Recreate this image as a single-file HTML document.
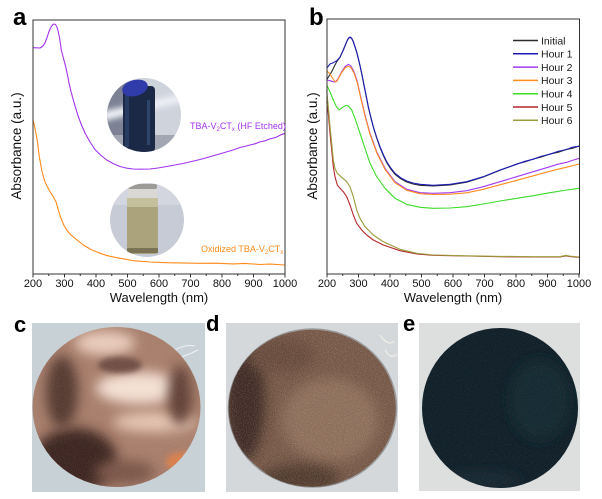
<!DOCTYPE html>
<html><head><meta charset="utf-8"><style>
html,body{margin:0;padding:0;background:#fff;width:602px;height:499px;overflow:hidden}
svg{display:block}
text{font-family:"Liberation Sans",Arial,sans-serif}
</style></head><body>
<svg width="602" height="499" viewBox="0 0 602 499" xmlns="http://www.w3.org/2000/svg">
<defs>
<filter id="bl" x="-60%" y="-60%" width="220%" height="220%"><feGaussianBlur stdDeviation="6"/></filter>
<filter id="bl2" x="-60%" y="-60%" width="220%" height="220%"><feGaussianBlur stdDeviation="3"/></filter>
<filter id="nz" x="0" y="0" width="100%" height="100%"><feTurbulence type="fractalNoise" baseFrequency="0.9" numOctaves="2" seed="4"/><feColorMatrix type="matrix" values="0 0 0 0 0.85  0 0 0 0 0.7  0 0 0 0 0.58  1.6 0 0 0 -0.65"/></filter>
<filter id="nzd" x="0" y="0" width="100%" height="100%"><feTurbulence type="fractalNoise" baseFrequency="0.9" numOctaves="2" seed="9"/><feColorMatrix type="matrix" values="0 0 0 0 0.15  0 0 0 0 0.1  0 0 0 0 0.08  1.6 0 0 0 -0.65"/></filter>
<filter id="nz2" x="0" y="0" width="100%" height="100%"><feTurbulence type="fractalNoise" baseFrequency="0.9" numOctaves="2" seed="7"/><feColorMatrix type="matrix" values="0 0 0 0 0.2  0 0 0 0 0.4  0 0 0 0 0.45  1.6 0 0 0 -0.7"/></filter>
<clipPath id="cc"><ellipse cx="116.5" cy="407" rx="84" ry="80"/></clipPath>
<clipPath id="cd"><ellipse cx="312.5" cy="408" rx="84" ry="79"/></clipPath>
<clipPath id="ce"><ellipse cx="500" cy="408" rx="78" ry="80"/></clipPath>
<clipPath id="i1"><circle cx="144" cy="115" r="37"/></clipPath>
<clipPath id="i2"><circle cx="147" cy="220" r="37"/></clipPath>
</defs>

<!-- Panel labels -->
<text x="13" y="25" font-size="24" font-weight="bold" fill="#000">a</text>
<text x="309" y="25" font-size="24" font-weight="bold" fill="#000">b</text>
<text x="14" y="332" font-size="22" font-weight="bold" fill="#000">c</text>
<text x="206" y="331" font-size="22" font-weight="bold" fill="#000">d</text>
<text x="403" y="331" font-size="22" font-weight="bold" fill="#000">e</text>

<!-- ===== Panel a ===== -->
<g clip-path="url(#i1)">
  <rect x="100" y="75" width="90" height="80" fill="#cfd3dc"/>
  <rect x="100" y="75" width="30" height="80" fill="#7c8294" filter="url(#bl2)"/>
  <path d="M100,112 L190,92 L190,100 L100,122 Z" fill="#eef0f5" filter="url(#bl2)"/>
  <rect x="100" y="135" width="90" height="25" fill="#a3a7b3"/>
  <rect x="123" y="86" width="32" height="66" rx="4" fill="#1b2846"/>
  <rect x="125" y="95" width="4" height="52" fill="#2c4068" opacity="0.8"/>
  <rect x="147" y="100" width="3" height="45" fill="#34507a" opacity="0.7"/>
  <ellipse cx="135" cy="88" rx="13" ry="8" fill="#2f3caa" transform="rotate(-15 135 88)"/>
</g>
<g clip-path="url(#i2)">
  <rect x="105" y="180" width="90" height="80" fill="#c7cbd5"/>
  <rect x="105" y="180" width="90" height="25" fill="#d3d6de"/>
  <rect x="128" y="185" width="29" height="14" rx="2" fill="#d9d8d4"/>
  <rect x="128" y="184" width="29" height="5" rx="2" fill="#9c9b98"/>
  <rect x="127" y="198" width="31" height="56" rx="3" fill="#aaa37b"/>
  <rect x="127" y="198" width="31" height="9" fill="#c4bf9c"/>
  <rect x="127" y="248" width="31" height="5" fill="#7a7455"/>
</g>

<path d="M33,274v3.5M64.5,274v3.5M96,274v3.5M127.5,274v3.5M159,274v3.5M190.5,274v3.5M222,274v3.5M253.5,274v3.5M285,274v3.5M48.75,274v2M80.25,274v2M111.75,274v2M143.25,274v2M174.75,274v2M206.25,274v2M237.75,274v2M269.25,274v2" stroke="#333" stroke-width="1" fill="none"/>
<path d="M33,47.7 L36,47.8 L40,48 L42.5,46.5 L45,43 L47,37.5 L48.5,33 L50,29 L51.7,26 L53,24.5 L54,24 L55.5,24.5 L56.7,26.5 L58,30.5 L59.3,36.5 L60.3,43 L61.3,50 L63.5,58.5 L65.7,66.7 L67.5,75 L69,83 L71,91.5 L73.3,100 L75.8,108.5 L78.3,116.5 L81.5,125 L85,133 L90,142 L95,149.5 L100.5,155 L106.7,160 L113,163.5 L120,166.5 L126,168 L133,169 L141,169.2 L150,169 L158,168 L166.7,166.5 L183,163.5 L200,159.5 L216,155 L233,150 L240,147.5 L245,146.4 L250,145 L255,143.8 L260,141.9 L265,140.8 L270,138.9 L276,137.4 L280,135.2 L285,133.3" stroke="#a333f0" stroke-width="1.1" fill="none" stroke-linejoin="round"/>
<path d="M33,120 L34.3,125 L36,133.3 L37.7,143.3 L39.3,156.7 L41.7,170 L43.3,176.5 L45,181.7 L47.5,187 L50,191.7 L53.3,196.7 L56,201.7 L58.3,210 L60,215.5 L61.7,220 L64,225.5 L66.7,230 L70.5,234.5 L75,238.3 L83.3,245 L91,249.5 L100,253.3 L108,255.8 L116.7,257.7 L133.3,260.7 L150,262 L166.7,262.7 L200,263.3 L215,263.2 L233.3,263.9 L245,263.4 L260,264.5 L270,264.1 L285,265" stroke="#ff8a1a" stroke-width="1.1" fill="none" stroke-linejoin="round"/>
<rect x="33" y="20" width="252" height="254" fill="none" stroke="#333" stroke-width="1"/>
<text x="190" y="129" font-size="9" fill="#a333f0">TBA-V<tspan font-size="6" dy="2">2</tspan><tspan dy="-2">CT</tspan><tspan font-size="6" dy="2">x</tspan><tspan dy="-2"> (HF Etched)</tspan></text>
<text x="201" y="252" font-size="9" fill="#ff8a1a">Oxidized TBA-V<tspan font-size="6" dy="2">2</tspan><tspan dy="-2">CT</tspan><tspan font-size="6" dy="2">x</tspan></text>
<g font-size="11" fill="#111" text-anchor="middle">
<text x="33" y="287">200</text><text x="64.5" y="287">300</text><text x="96" y="287">400</text><text x="127.5" y="287">500</text><text x="159" y="287">600</text><text x="190.5" y="287">700</text><text x="222" y="287">800</text><text x="253.5" y="287">900</text><text x="285" y="287">1000</text>
</g>
<text x="159" y="302" font-size="13" fill="#111" text-anchor="middle">Wavelength (nm)</text>
<text transform="translate(21,146) rotate(-90)" font-size="13.5" fill="#111" text-anchor="middle">Absorbance (a.u.)</text>

<!-- ===== Panel b ===== -->
<path d="M327,274v3.5M358.5,274v3.5M390,274v3.5M421.5,274v3.5M453,274v3.5M484.5,274v3.5M516,274v3.5M547.5,274v3.5M579,274v3.5M342.75,274v2M374.25,274v2M405.75,274v2M437.25,274v2M468.75,274v2M500.25,274v2M531.75,274v2M563.25,274v2" stroke="#333" stroke-width="1" fill="none"/>
<g fill="none" stroke-width="1.1" stroke-linejoin="round">
<path d="M326.7,80 L329,76 L331.7,71.7 L334,67 L336.7,61.7 L340,57.3 L343.3,50 L346.7,41.7 L348,39 L349.3,37.6 L350.5,37.5 L351.7,38.6 L353.3,41.8 L355,47 L356.7,52.3 L358.3,58.6 L360,65.8 L361.7,73.6 L363.3,81.8 L365,90.3 L366.7,98.8 L368.3,107 L370.8,117.3 L373.3,127 L376.7,138 L380,147.4 L383.3,155.4 L386.7,162.6 L390.8,169 L395,174.3 L400.8,178.8 L406.7,182 L413,184 L420,185.3 L433.3,186 L450,185 L466.7,182.2 L483.3,177 L500,170.3 L510,166.5 L516.7,164 L525,161.8 L533.3,159 L540,157.4 L550,154 L558,152.3 L566.7,149.3 L572,148.5 L579.3,146" stroke="#2b2b2b"/>
<path d="M326.7,68.3 L330,64 L333.3,62.7 L336.7,60.7 L340,57.3 L343.3,50 L346.7,41.7 L348,39 L349.3,37.3 L350.5,37.2 L351.7,38.3 L353.3,41.5 L355,46.7 L356.7,52 L358.3,58.3 L360,65.5 L361.7,73.3 L363.3,81.5 L365,90 L366.7,98.5 L368.3,106.7 L370.8,117 L373.3,126.7 L376.7,137.5 L380,146.7 L383.3,154.5 L386.7,161.7 L390.8,168 L395,173.3 L400.8,177.8 L406.7,181 L413,183 L420,184.3 L433.3,185.3 L450,184.3 L466.7,181.7 L483.3,176.7 L500,170 L508,167.3 L516.7,164.2 L525,161.3 L533.3,159.2 L541,156.4 L550,154.2 L558,151.4 L566.7,149.5 L572,147.3 L579.3,146.2" stroke="#1c1cb4"/>
<path d="M326.7,80 L330,80.7 L333,81.7 L335,82 L336.7,80.5 L338.3,78.3 L341.7,71.7 L345,66.7 L348.3,64.3 L350.7,65.7 L354,71.7 L357.3,81.7 L360.7,96.7 L365,115 L370,133.3 L376.7,151.7 L385,168.3 L395,181.7 L406.7,189.3 L420,192.7 L433.3,193.3 L450,192.7 L466.7,190.7 L483.3,186.7 L500,181.7 L516.7,176.7 L533.3,171.7 L550,166.7 L558,164.2 L566.7,162.3 L572,160.5 L579.3,158.3" stroke="#a23cf0"/>
<path d="M326.7,70.7 L330,74 L332.5,78 L335,81.7 L336.7,81.5 L338.3,78.8 L341.7,72.5 L345,68 L348.3,66.2 L350.7,67.2 L354,73 L357.3,83 L360.7,97.7 L365,116 L370,134.3 L376.7,152.7 L385,169.3 L395,182.7 L406.7,190.3 L420,193.7 L433.3,194.5 L450,194.2 L466.7,192.8 L483.3,189.3 L500,184.8 L516.7,180.3 L533.3,175.8 L550,171.2 L566.7,167.2 L579.3,164" stroke="#ff8c1e"/>
<path d="M326.7,85 L330,91.7 L333.3,100 L336.7,107.3 L339.3,110 L342.7,107.3 L346,105.3 L348.3,106 L351.7,110 L355,118.3 L360,133.3 L365,148.3 L370,163.3 L376.7,176.7 L385,188.3 L395,198.3 L406.7,204.3 L420,207.3 L433.3,208.3 L450,208 L466.7,206.7 L483.3,204 L500,201 L516.7,198.3 L533.3,195.7 L550,192.7 L566.7,190 L579.3,188.3" stroke="#3cdc28"/>
<path d="M326.7,101.7 L328.3,113.3 L330,133.3 L331.7,150 L333.3,166.7 L335,176.7 L337.3,185 L340,188.3 L343.3,191.7 L346.7,196.7 L350,205 L353.3,215 L356.7,223.3 L361.7,230 L366.7,235 L373.3,240 L383.3,245 L400,250.7 L416.7,254 L433.3,255.3 L466.7,256 L500,256.7 L533.3,257 L560,257 L566,255.8 L570,256.6 L579.3,257.3" stroke="#b4282d"/>
<path d="M326.7,90 L328.3,106.7 L330,126.7 L331.7,143.3 L333.3,160 L335,168.3 L337.3,173.3 L341.7,177.3 L346.7,181.7 L350,186.7 L353.3,196.7 L356.7,210 L360,218.3 L365,226.7 L373.3,235 L383.3,241.7 L400,249.3 L416.7,253.3 L433.3,255 L466.7,255.8 L500,256.4 L533.3,256.7 L560,256.7 L566,255.3 L570,256.2 L579.3,257" stroke="#9c9c3c"/>
</g>
<rect x="327" y="19" width="252.5" height="255" fill="none" stroke="#333" stroke-width="1"/>
<g stroke-width="1.5">
<line x1="513" y1="40.5" x2="538" y2="40.5" stroke="#2b2b2b"/>
<line x1="513" y1="53.8" x2="538" y2="53.8" stroke="#1c1cb4"/>
<line x1="513" y1="67.1" x2="538" y2="67.1" stroke="#a23cf0"/>
<line x1="513" y1="80.4" x2="538" y2="80.4" stroke="#ff8c1e"/>
<line x1="513" y1="93.7" x2="538" y2="93.7" stroke="#3cdc28"/>
<line x1="513" y1="107" x2="538" y2="107" stroke="#b4282d"/>
<line x1="513" y1="120.3" x2="538" y2="120.3" stroke="#9c9c3c"/>
</g>
<g font-size="10.5" fill="#1a1a1a">
<text x="541" y="44.3">Initial</text>
<text x="541" y="57.6">Hour 1</text>
<text x="541" y="70.9">Hour 2</text>
<text x="541" y="84.2">Hour 3</text>
<text x="541" y="97.5">Hour 4</text>
<text x="541" y="110.8">Hour 5</text>
<text x="541" y="124.1">Hour 6</text>
</g>
<g font-size="11" fill="#111" text-anchor="middle">
<text x="327" y="287">200</text><text x="358.5" y="287">300</text><text x="390" y="287">400</text><text x="421.5" y="287">500</text><text x="453" y="287">600</text><text x="484.5" y="287">700</text><text x="516" y="287">800</text><text x="547.5" y="287">900</text><text x="579" y="287">1000</text>
</g>
<text x="453" y="302" font-size="13" fill="#111" text-anchor="middle">Wavelength (nm)</text>
<text transform="translate(317,146) rotate(-90)" font-size="13.5" fill="#111" text-anchor="middle">Absorbance (a.u.)</text>

<!-- ===== Photo c ===== -->
<rect x="32" y="323" width="173" height="169" fill="#c8d1d5"/>
<path d="M175,350 q10,-6 20,-4 M172,360 q14,-4 26,-10" stroke="#eef2f4" stroke-width="1" fill="none"/>
<ellipse cx="116.5" cy="407" rx="84" ry="80" fill="#a87e6c"/>
<g clip-path="url(#cc)">
  <ellipse cx="140" cy="388" rx="44" ry="16" fill="#f4e0d4" filter="url(#bl)"/>
  <ellipse cx="155" cy="422" rx="42" ry="10" fill="#e6c6b4" filter="url(#bl)"/>
  <ellipse cx="105" cy="343" rx="30" ry="12" fill="#eacdbe" filter="url(#bl)"/>
  <ellipse cx="75" cy="460" rx="42" ry="32" fill="#3e2822" filter="url(#bl)"/>
  <ellipse cx="62" cy="392" rx="16" ry="36" fill="#553a32" filter="url(#bl)"/>
  <ellipse cx="180" cy="395" rx="12" ry="30" fill="#5e4036" filter="url(#bl)"/>
  <ellipse cx="182" cy="462" rx="16" ry="10" fill="#d8804e" filter="url(#bl2)"/>
  <ellipse cx="125" cy="472" rx="30" ry="12" fill="#7a5649" filter="url(#bl)"/>
  <ellipse cx="120" cy="365" rx="22" ry="8" fill="#6e4e44" filter="url(#bl2)"/>
  <rect x="32" y="327" width="170" height="160" filter="url(#nz)" opacity="0.15"/>
</g>
<!-- ===== Photo d ===== -->
<rect x="226" y="323" width="172" height="169" fill="#d4d8db"/>
<path d="M380,335 q8,12 14,6 M385,350 q6,10 12,4" stroke="#f2efe8" stroke-width="1.2" fill="none"/>
<ellipse cx="312.5" cy="408" rx="84" ry="79" fill="#765847" stroke="#9a9a9c" stroke-width="1.5"/>
<g clip-path="url(#cd)">
  <ellipse cx="330" cy="420" rx="48" ry="42" fill="#8e705c" filter="url(#bl)"/>
  <ellipse cx="245" cy="400" rx="20" ry="60" fill="#3a2820" filter="url(#bl)"/>
  <ellipse cx="300" cy="478" rx="40" ry="14" fill="#4e382c" filter="url(#bl)"/>
  <ellipse cx="280" cy="355" rx="35" ry="18" fill="#66493a" filter="url(#bl)"/>
  <rect x="228" y="329" width="170" height="158" filter="url(#nz)" opacity="0.35"/>
  <rect x="228" y="329" width="170" height="158" filter="url(#nzd)" opacity="0.35"/>
</g>
<!-- ===== Photo e ===== -->
<rect x="419" y="323" width="161" height="168" fill="#dddede"/>
<ellipse cx="500" cy="408" rx="78" ry="80" fill="#122029"/>
<g clip-path="url(#ce)">
  <ellipse cx="540" cy="400" rx="30" ry="40" fill="#172a32" filter="url(#bl)"/>
  <ellipse cx="480" cy="480" rx="40" ry="8" fill="#1a2c34" filter="url(#bl)"/>
  <rect x="422" y="328" width="156" height="160" filter="url(#nz2)" opacity="0.2"/>
</g>
</svg>
</body></html>
